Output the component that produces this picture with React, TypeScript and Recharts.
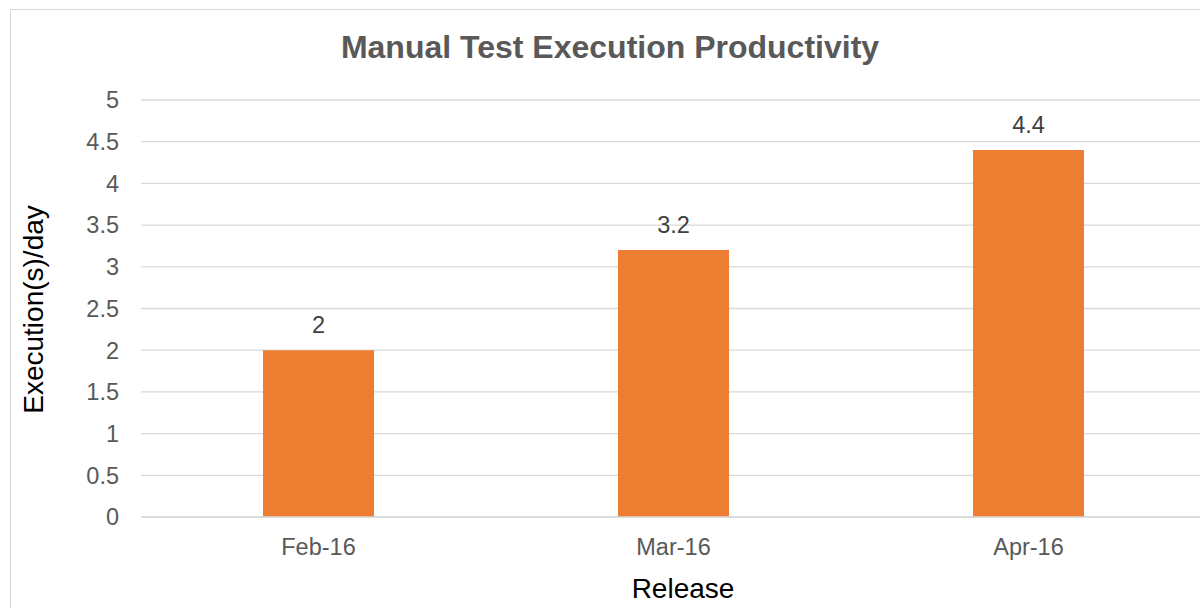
import { Bar, BarChart, CartesianGrid, Label, LabelList, XAxis, YAxis } from "recharts";

const releases = ["Feb-16", "Mar-16", "Apr-16"];
const executionsPerDay = [2, 3.2, 4.4];
const yTicks = [0, 0.5, 1, 1.5, 2, 2.5, 3, 3.5, 4, 4.5, 5];

const data = releases.map((release, i) => ({ release, value: executionsPerDay[i] }));

const FONT = "'Liberation Sans', Arial, sans-serif";

const YTitle = () => (
  <text
    x={43}
    y={309.5}
    transform="rotate(-90, 43, 309.5)"
    textAnchor="middle"
    fontFamily={FONT}
    fontSize={28}
    fill="#000000"
  >
    Execution(s)/day
  </text>
);

const XTitle = () => (
  <text x={683} y={598} textAnchor="middle" fontFamily={FONT} fontSize={28} fill="#000000">
    Release
  </text>
);

export default function App() {
  return (
    <div
      style={{
        position: "fixed",
        left: 0,
        top: 0,
        width: 1200,
        height: 608,
        overflow: "hidden",
        background: "#ffffff",
        fontFamily: FONT
      }}
    >
      <div
        style={{
          position: "absolute",
          left: 10,
          top: 9,
          width: 1300,
          height: 700,
          border: "1px solid #d9d9d9"
        }}
      />
      <div
        style={{
          position: "absolute",
          left: 10,
          top: 31,
          width: 1200,
          textAlign: "center",
          fontSize: 32,
          lineHeight: 1,
          fontWeight: "bold",
          color: "#595959"
        }}
      >
        Manual Test Execution Productivity
      </div>
      <div style={{ position: "absolute", left: 0, top: 0 }}>
        <BarChart width={1206} height={608} data={data} margin={{ top: 100, right: 0, bottom: 0, left: 0 }}>
          <CartesianGrid vertical={false} stroke="#d9d9d9" strokeWidth={1.3} />
          <XAxis
            dataKey="release"
            height={91}
            stroke="#d9d9d9"
            strokeWidth={1.3}
            tickLine={false}
            tickSize={6}
            tickMargin={15}
            tick={{ fill: "#595959", fontSize: 23.5, fontFamily: FONT }}
          >
            <Label content={<XTitle />} />
          </XAxis>
          <YAxis
            width={141}
            domain={[0, 5]}
            ticks={yTicks}
            axisLine={false}
            tickLine={false}
            tickSize={6}
            tickMargin={16}
            tick={{ fill: "#595959", fontSize: 23.5, fontFamily: FONT }}
          >
            <Label content={<YTitle />} />
          </YAxis>
          <Bar dataKey="value" fill="#ed7d31" barSize={111} isAnimationActive={false}>
            <LabelList
              dataKey="value"
              position="top"
              offset={17}
              fill="#404040"
              fontSize={23.5}
              fontFamily={FONT}
            />
          </Bar>
        </BarChart>
      </div>
    </div>
  );
}
